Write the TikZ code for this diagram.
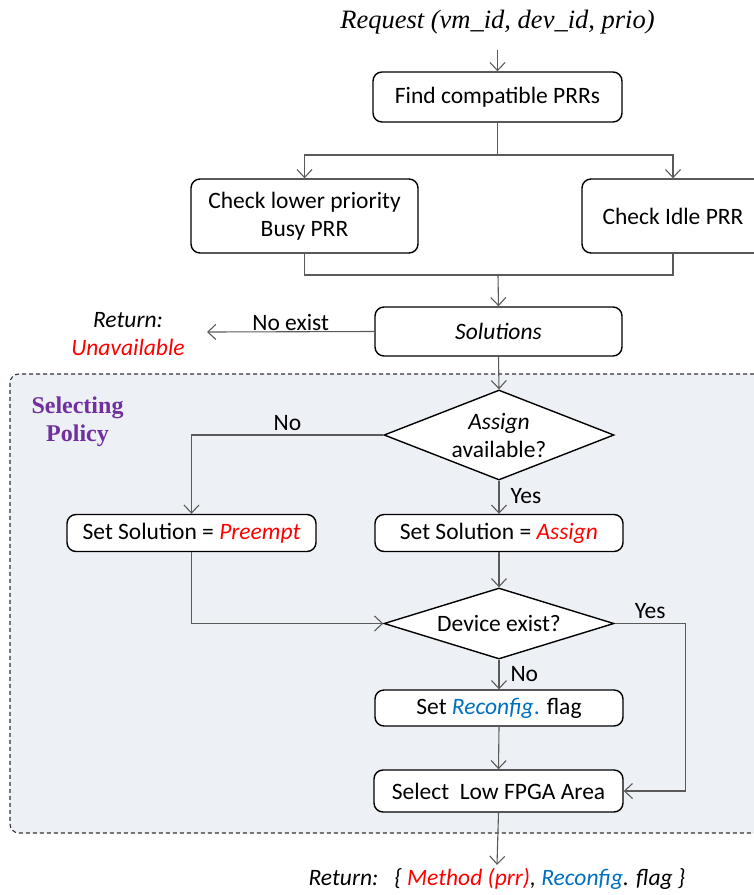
\documentclass[tikz,border=0pt]{standalone}
\usepackage{fontspec}
\setmainfont{Carlito}
\newfontfamily\tnr{Liberation Serif}
\usetikzlibrary{positioning,arrows.meta,shapes.geometric}
\definecolor{hot}{RGB}{255,0,0}
\definecolor{cfg}{RGB}{0,112,192}
\definecolor{pol}{RGB}{112,48,160}
\definecolor{polbg}{RGB}{237,240,245}
\definecolor{wire}{RGB}{90,90,90}

\begin{document}
\begin{tikzpicture}[
      x=1pt, y=-1pt,
      font=\fontsize{23.5}{28}\selectfont,
      >={Straight Barb[length=8pt,width=15pt]},
      blk/.style={draw, rounded corners=9pt, line width=1.4pt, fill=white, align=center, inner sep=0pt},
      dec/.style={draw, diamond, line width=1.4pt, fill=white, inner sep=0pt, minimum width=230pt},
      region/.style={draw=black!80, dashed, dash pattern=on 4pt off 3pt, line width=1.1pt, rounded corners=9pt, fill=polbg},
      ar/.style={->, draw=wire, line width=1.1pt},
      ln/.style={draw=wire, line width=1.1pt},
      note/.style={inner sep=1pt}
    ]
    \useasboundingbox (0,0) rectangle (753,895);

    % ===== Selecting Policy region (background) =====
    \node[region, minimum width=760pt, minimum height=459pt] (SP) at (390,603.5) {};
    \node[font=\tnr\bfseries\fontsize{24}{28}\selectfont, text=pol, align=center] (ttl) at (77.5,422) {Selecting\\Policy};

    % ===== candidate search (top) =====
    \node[font=\tnr\itshape\fontsize{26.5}{30}\selectfont] (req) at (497.5,22) {Request (vm\_id, dev\_id, prio)};
    \node[blk, minimum width=249pt, minimum height=50pt] (find) at (497.5,97) {Find compatible PRRs};
    \node[blk, minimum width=227pt, minimum height=74pt] (busy) at (304.5,216) {Check lower priority\\Busy PRR};
    \node[blk, minimum width=182pt, minimum height=74pt] (idle) at (673,216) {Check Idle PRR};
    \node[blk, minimum width=247pt, minimum height=49pt] (sol) at (498.5,331.5) {\itshape Solutions};
    \node[align=center] (ret) at (128,334) {\itshape Return:\\\itshape\color{hot}Unavailable};
    \coordinate (sp) at (497.5,155);
    \coordinate (mg) at (498,275);
    \coordinate (ue) at (207,332);

    \draw[ar] ([yshift=-12pt]req.south) -- (find.north);
    \draw[ln] (find.south) -- (sp);
    \draw[ar] (sp) -| (busy.north);
    \draw[ar] (sp) -| (idle.north);
    \draw[ln] (busy.south) |- (mg);
    \draw[ln] (idle.south) |- (mg);
    \draw[ar] (mg) -- (sol.north);
    \draw[ar] (sol.west) -- node[note, above]{No exist} (ue);

    % ===== policy decisions =====
    \node[dec, minimum height=90pt, label={[align=center, font=\fontsize{23.5}{28}\selectfont]center:\textit{Assign}\\available?}] (d1) at (499,435) {};
    \node[blk, minimum width=249pt, minimum height=37pt] (pre) at (191.5,533) {Set Solution = \textit{\color{hot}Preempt}};
    \node[blk, minimum width=248pt, minimum height=37pt] (asg) at (499,533) {Set Solution = \textit{\color{hot}Assign}};
    \node[dec, minimum height=71pt, label={center:Device exist?}] (d2) at (499,623.5) {};
    \node[blk, minimum width=248pt, minimum height=36pt] (rcf) at (499,708) {Set \textit{\color{cfg}Reconfig}\textcolor{cfg}{.} flag};
    \node[blk, minimum width=249pt, minimum height=42pt] (sel) at (498.5,791) {Select\ \ Low FPGA Area};
    \node (out) at (497,879) {\itshape Return:\ \ \ \{ \textcolor{hot}{Method (prr)}, \textcolor{cfg}{Reconfig}. flag \}};

    \draw[ar] (sol.south) -- (d1.north);
    \draw[ar] (d1.west) -| node[note, pos=0.25, above=3pt]{No} (pre.north);
    \draw[ar] (d1.south) -- node[note, pos=0.45, right=10pt]{Yes} (asg.north);
    \draw[ar] (asg.south) -- (d2.north);
    \draw[ar] (pre.south) |- (d2.west);
    \draw[ar] (d2.east) -- node[note, pos=0.5, above=3pt]{Yes} ++(71,0) |- (sel.east);
    \draw[ar] (d2.south) -- node[note, pos=0.5, right=10pt]{No} (rcf.north);
    \draw[ar] (rcf.south) -- (sel.north);
    \draw[ar] (sel.south) -- (out.north);
    \end{tikzpicture}
\end{document}
